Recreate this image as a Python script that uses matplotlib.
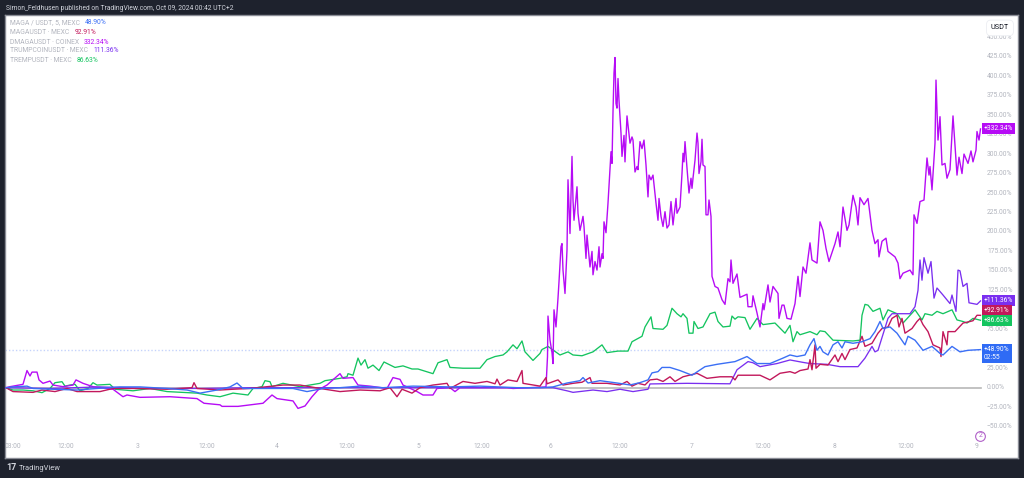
#!/usr/bin/env python3
"""TradingView comparison chart: MAGA tokens, percent change, 5 days."""

import matplotlib
matplotlib.use('Agg')
import matplotlib.pyplot as plt
import numpy as np

plt.rcParams['font.family'] = ['Roboto', 'DejaVu Sans']

# Time axis: 140 units per day, the day ticks sit at 138, 277, 418 ...
dmaga_t = [6, 10, 23, 27, 30, 32, 37, 39, 43, 50, 53, 63, 73, 76, 83, 93, 113, 123, 127, 140, 170, 197, 204, 220, 222, 238,
           263, 272, 277, 293, 298, 305, 312, 318, 327, 340, 343, 353, 358, 370, 387, 393, 400, 403, 417, 423, 433, 437, 450,
           455, 460, 507, 513, 530, 546, 547.5, 548, 550, 552, 553, 554, 556, 558, 559, 561, 562, 563, 565, 567, 568, 570,
           572, 573, 574, 577, 578, 580, 583, 584, 586, 587, 590, 592, 593, 595, 597, 599, 600, 602, 603, 604, 606, 608,
           611, 612, 613, 614, 615, 616, 617, 618, 619, 621, 622, 624, 625, 627, 630, 632, 633, 635, 637, 638, 640, 642,
           644, 646, 648, 649, 651, 653, 656, 658, 659, 661, 663, 665, 667, 669, 671, 673, 676, 677, 680, 682, 683, 684,
           685, 687, 689, 691, 692, 693, 695, 697, 698, 699, 701, 702, 703, 705, 706, 708, 709, 711, 712, 715, 718, 722,
           725, 728, 730, 731, 733, 737, 740, 747, 748, 752, 753, 757, 760, 763, 764, 768, 770, 773, 778, 779, 782, 784,
           787, 791, 795, 798, 800, 803, 806, 810, 812, 817, 820, 823, 826, 829, 835, 838, 840, 843, 847, 849, 853, 856,
           858, 860, 864, 868, 872, 875, 878, 879, 882, 886, 888, 895, 898, 900, 903, 910, 913, 914, 917, 920, 924, 927,
           929, 930, 932, 935, 936, 938, 940, 942, 945, 947, 950, 953, 957, 959, 962, 964, 968, 971, 973, 976, 977, 979, 980.5]
dmaga_v = [0, 1.3, 4.3, 22, 15, 20, 20, 10, 5.6, 8.5, 3.4, 1.3, 3.4, 10, 5.6, 1.3, -2, -11.6, -9.4, -12.4, -11.6, -14, -20, -22, -24, -24,
           -20, -9.4, -14, -17, -26.6, -23.5, -11.6, -3, 3.4, 18, 12, 13, 3.4, 2, -1, 13, 10.7, 3.4, -5, -9.4, -9.4, -1, 0,
           -5, 0, 0, -1, 0, 1, 40, 92, 61, 45, 31, 100, 78, 115, 136, 181, 185, 151, 121, 177, 267, 198,
           297, 241, 215, 258, 224, 202, 220, 207, 166, 196, 155, 175, 145, 162, 151, 181, 155, 172, 166, 213, 199, 237,
           303, 288, 354, 404, 424, 365, 359, 397, 369, 327, 297, 324, 290, 349, 314, 322, 318, 277, 284, 280, 316, 307,
           318, 286, 245, 273, 267, 273, 237, 215, 243, 220, 207, 226, 205, 209, 239, 209, 243, 224, 232, 275, 301, 290,
           316, 282, 250, 269, 256, 269, 292, 327, 314, 275, 290, 319, 286, 284, 222, 222, 241, 220, 143, 130, 128, 113,
           107, 140, 136, 164, 134, 146, 116, 120, 104, 104, 118, 96, 78, 108, 100, 132, 110, 130, 121, 89, 106, 106,
           89, 88, 108, 143, 117, 155, 147, 186, 164, 160, 213, 202, 179, 162, 185, 200, 181, 232, 202, 209, 247, 232,
           209, 244, 235, 243, 202, 185, 190, 168, 188, 192, 175, 168, 160, 140, 147, 151, 145, 222, 211, 239, 241, 295,
           273, 284, 254, 314, 395, 318, 348, 286, 288, 269, 280, 349, 273, 296, 275, 300, 288, 304, 290, 305, 329, 318, 332.3]

tremp_t = [6, 13, 23, 33, 42, 50, 55, 62, 65, 70, 75, 80, 88, 93, 97, 110, 115, 133, 150, 167, 197, 207, 220, 233, 248, 253,
           262, 265, 270, 272, 283, 300, 320, 325, 340, 347, 348, 353, 358, 361, 365, 368, 373, 379, 384, 395, 403, 412, 418,
           433, 438, 447, 450, 463, 480, 487, 495, 503, 507, 513, 517, 522, 525, 533, 540, 542, 548, 560, 568, 573, 582, 593,
           602, 607, 618, 628, 632, 642, 645, 651, 653, 663, 667, 672, 677, 681, 683, 687, 689, 693, 694, 698, 703, 710, 715,
           718, 723, 730, 732, 735, 738, 745, 750, 757, 763, 775, 785, 790, 793, 797, 800, 810, 817, 820, 825, 833, 853, 860,
           862, 865, 868, 873, 880, 883, 888, 897, 903, 915, 922, 925, 932, 937, 943, 952, 957, 963, 967, 973, 980.5]
tremp_v = [0, -3, -3, -4, -6.4, -1, 6.4, 7.7, 2, 3.4, 4.3, -4, -1, 6.4, 3.4, 4.3, -2, -4, -1, -5, -7, -9.4, -11.6, -7, -9.4, -1,
           1.3, 9, 7.7, 1.3, 5.6, 1.3, 5.6, 9, 12, 14, 18, 16, 38, 29, 36, 25, 29, 22, 33, 26, 28, 24, 24,
           18, 32, 36, 26, 25, 25, 36, 40, 42, 46, 55, 50, 60, 46, 35, 44, 49, 53, 42, 46, 42, 41, 46,
           55, 45, 47, 47, 59, 66, 78, 91, 76, 75, 80, 102, 95, 91, 95, 89, 70, 70, 85, 76, 78, 95, 97,
           85, 78, 79, 92, 88, 91, 90, 75, 89, 81, 83, 70, 80, 59, 72, 68, 72, 68, 73, 72, 61, 60, 61,
           93, 107, 106, 98, 102, 87, 100, 95, 83, 100, 87, 95, 93, 98, 95, 100, 87, 85, 83, 89, 86.6]

magausdt_t = [6, 13, 33, 42, 55, 67, 77, 100, 113, 133, 167, 192, 194, 197, 220, 233, 250, 283, 300, 320, 340, 360, 380, 390, 397,
              402, 412, 420, 433, 447, 450, 463, 475, 487, 495, 497, 500, 508, 517, 522, 523, 540, 546, 547, 558, 563, 573, 582,
              590, 592, 607, 620, 627, 632, 638, 645, 650, 657, 663, 670, 675, 683, 697, 707, 720, 732, 735, 738, 760, 770, 780,
              790, 795, 800, 808, 810, 812, 815, 816, 820, 828, 835, 838, 842, 845, 850, 857, 862, 865, 872, 878, 882, 888, 892,
              897, 899, 902, 905, 912, 917, 920, 923, 928, 933, 940, 941, 943, 947, 948, 955, 963, 970, 973, 977, 980.5]
magausdt_v = [0, -5, -6, -3, -5, -1, -5, -5, -1, -1, -2, 0, 6.4, -1, -3, -2, -1, 3.4, 3.4, -1, -5, -3, -4, 0, -11.6,
              -2, -7, 0, 3.4, 5.6, -1, 8, 5.6, 8, 5, 11, 3.4, 10, 8, 22, 5.6, 2, 13, 5, 10, 3.4, 5.6, 7,
              13, 5.6, 5.6, 3.5, 8, 2, 5.6, 3.5, 10, 11, 8, 14, 8, 14, 18.5, 12, 14, 14, 10, 16, 16, 10, 18.5,
              20.6, 18.5, 22, 24, 36, 23, 55, 25, 30, 29, 42, 33.5, 44, 36, 49, 51, 66, 53, 57, 70, 76, 78, 89,
              93, 78, 89, 70, 76, 85, 89, 81, 72, 55, 51, 40, 72, 55, 72, 72, 83, 85, 86, 93, 92.9]

maga_t = [6, 13, 27, 33, 53, 77, 97, 120, 140, 167, 187, 200, 217, 230, 237, 243, 263, 293, 307, 323, 340, 360, 383, 413, 450,
          480, 517, 540, 553, 567, 580, 583, 588, 600, 617, 630, 640, 648, 652, 658, 662, 670, 680, 692, 705, 717, 735, 747,
          757, 770, 783, 790, 797, 805, 810, 814, 817, 820, 823, 828, 833, 838, 842, 845, 853, 862, 870, 875, 880, 883, 890,
          897, 905, 908, 915, 923, 932, 940, 943, 952, 960, 968, 980.5]
maga_v = [0, 1, 2, -1, -2, -3, -1, 1, 1, -1, -3, -7, -3, 1, 6, -1, -1, -1, -5, -1, 0, 2, 0, 2, 1,
          2, 0, 0, 1, 6, 9, 13, 6, 9, 6, 3.5, 6.5, 10, 19, 20.6, 26, 26, 22, 16, 27, 30, 33.5, 40,
          31, 31, 38, 42, 40, 42, 55, 63, 48, 53, 46, 42, 55, 59, 51, 59, 57, 59, 63, 72, 85, 76, 78,
          70, 55, 66, 61, 48, 53, 44, 42, 53, 46, 48, 48.9]

trump_t = [6, 50, 100, 150, 200, 250, 340, 540, 553, 567, 573, 593, 607, 620, 633, 648, 650, 687, 730, 737, 748, 753, 760, 777, 790,
           803, 810, 827, 840, 858, 865, 872, 875, 878, 888, 892, 910, 915, 918, 920, 922, 924, 928, 931, 934, 937, 943, 950, 952,
           956, 958, 960, 963, 967, 969, 977, 980.5]
trump_v = [0, -1, 1, -1, -1, 0, 0, 0, 0, -4, -6, -3, -5, -2, -5, -2, 4.8, 5.6, 5, 23, 33.5, 32, 27, 31, 35.6,
           32.5, 31, 30, 27, 27, 38, 53, 46, 48, 89, 95, 95, 104, 125, 164, 138, 167, 147, 162, 115, 128, 119, 108, 119,
           98, 151, 150, 130, 134, 109, 107, 111.4]

# the 50% and 100% labels are covered by the tags in the original
y_ticks = [-50, -25, 0, 25, 75, 125, 150, 175, 200, 225, 250, 275, 300, 325, 350, 375, 400, 425, 450]
x_ticks = [13, 66, 138, 207, 277, 347, 418, 482, 551, 620, 692, 763, 835, 906, 977]
x_labels = ['03:00', '12:00', '3', '12:00', '4', '12:00', '5', '12:00', '6', '12:00', '7', '12:00', '8', '12:00', '9']

legend_names = ['MAGA / USDT, 5, MEXC', 'MAGAUSDT · MEXC', 'DMAGAUSDT · COINEX', 'TRUMPCOINUSDT · MEXC', 'TREMPUSDT · MEXC']
legend_values = ['48.90%', '92.91%', '332.34%', '111.36%', '86.63%']

BG = '#1e222d'
BLUE = '#3b6ff5'
RED = '#c2185b'
PURPLE = '#b60cf5'
VIOLET = '#7a2ff0'
GREEN = '#14c45f'
GREY = '#b2b5be'


def main():
    fig = plt.figure(figsize=(10.24, 4.78), dpi=100, facecolor=BG)
    # white pane runs from x=5 to 1018 and y=15 to 458 in pixels
    ax = fig.add_axes([5 / 1024, 1 - 458 / 478, 1013 / 1024, 443 / 478])
    ax.set_xlim(5, 1018)
    ax.set_ylim(-90.3, 478.6)
    for s in ax.spines.values():
        s.set_color('#8a8d96')
        s.set_linewidth(1)

    # reference lines
    ax.plot([5, 981], [0, 0], color='#b8b8b8', lw=1.2, zorder=1)
    ax.plot([5, 981], [48.9, 48.9], color='#c5d3fb', lw=1, ls=(0, (1, 1.5)), zorder=1)

    ax.plot(tremp_t, tremp_v, color=GREEN, lw=0.95, zorder=2)
    ax.plot(dmaga_t, dmaga_v, color=PURPLE, lw=1.0, zorder=3)
    ax.plot(trump_t, trump_v, color=VIOLET, lw=0.95, zorder=4)
    ax.plot(magausdt_t, magausdt_v, color=RED, lw=1.0, zorder=5)
    ax.plot(maga_t, maga_v, color=BLUE, lw=1.0, zorder=6)

    # price scale, drawn inside the pane
    ax.set_yticks([])
    for v in y_ticks:
        sign = '\u2212' if v < 0 else ''
        ax.text(987, v, f'{sign}{abs(v):.2f}%', fontsize=4.9, color=GREY, va='center', ha='left', zorder=7)

    ax.set_xticks(x_ticks)
    ax.set_xticklabels(x_labels, fontsize=4.9, color=GREY)
    ax.tick_params(axis='x', length=0, direction='in', pad=-11)

    # last value tags
    tags = [(332.3, '+332.34%', PURPLE), (111.4, '+111.36%', VIOLET), (99, '+92.91%', RED),
            (86.3, '+86.63%', GREEN), (44, '+48.90%\n02:55', '#2f6bf5')]
    for y, txt, col in tags:
        ax.text(984, y, txt, fontsize=4.9, color='white', va='center', ha='left', zorder=9, linespacing=1.3,
                bbox=dict(boxstyle='square,pad=0.3', facecolor=col, edgecolor='none'))

    ax.text(1000, 462, 'USDT', fontsize=5.2, color='#131722', va='center', ha='center', zorder=9,
            bbox=dict(boxstyle='round,pad=0.6', facecolor='white', edgecolor='#eceef2', linewidth=0.6))

    # legend lines top left
    y_px = [23, 33, 42, 51, 61]
    for name, val, yp, col in zip(legend_names, legend_values, y_px, [BLUE, RED, PURPLE, VIOLET, GREEN]):
        t = fig.text(10 / 1024, 1 - yp / 478, name, fontsize=4.9, color=GREY, va='center')
        bb = t.get_window_extent(fig.canvas.get_renderer())
        fig.text((bb.x1 + 5) / 1024, 1 - yp / 478, val, fontsize=4.9, color=col, va='center')

    # header and footer
    fig.text(6 / 1024, 1 - 8 / 478, 'Simon_Feldhusen published on TradingView.com, Oct 09, 2024 00:42 UTC+2',
             fontsize=4.9, color='#d1d4dc', va='center')
    fig.text(6 / 1024, 1 - 468 / 478, '17', fontsize=6.5, fontweight='bold', color='#d1d4dc', va='center')
    fig.text(19 / 1024, 1 - 468 / 478, 'TradingView', fontsize=5.4, color='#d1d4dc', va='center')

    # event marker at bottom right, cut off by the price scale
    ax.plot([980], [-62], marker='o', ms=7, mfc='white', mec='#b060c8', mew=0.8, zorder=6)
    ax.text(981, -62, '2', fontsize=5, color='#b060c8', ha='center', va='center', zorder=6)

    fig.savefig('out.png', dpi=100, facecolor=BG)


if __name__ == '__main__':
    main()
